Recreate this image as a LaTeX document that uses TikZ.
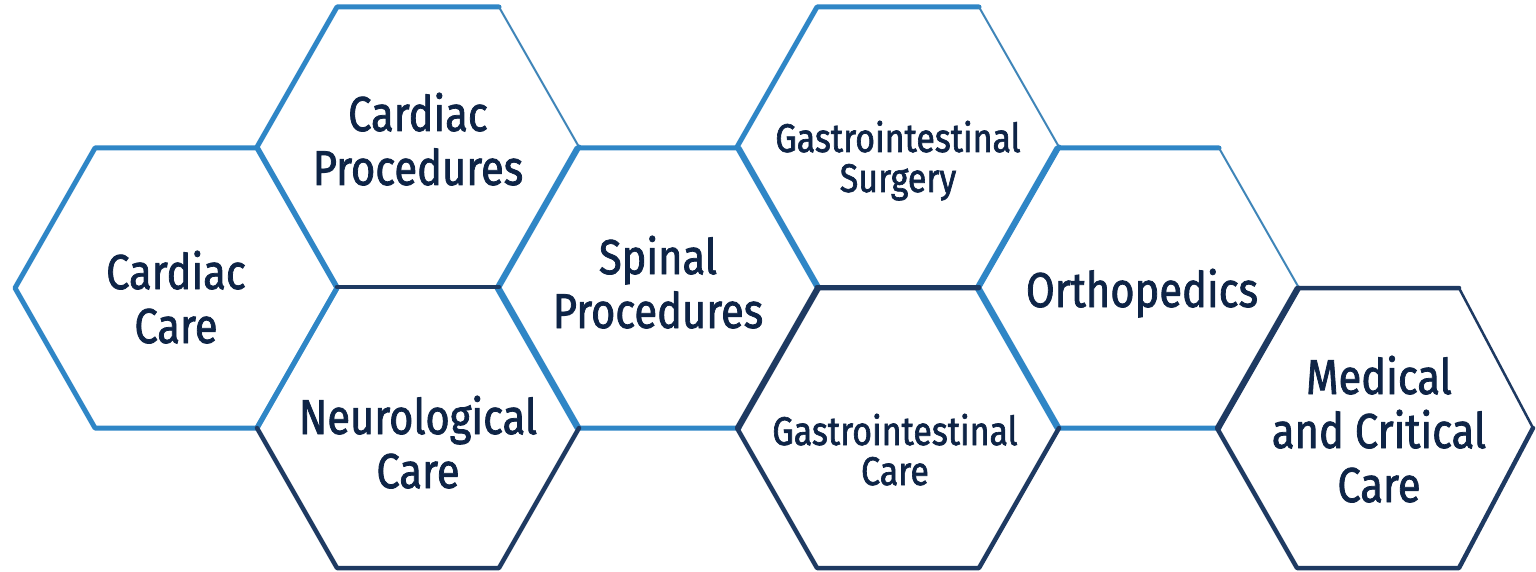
\documentclass[tikz,border=0pt]{standalone}
\usepackage{fontspec}
\setmainfont{Fira Sans}[FakeStretch=0.85,FakeBold=1.6]
\definecolor{lb}{HTML}{2F86C6}
\definecolor{nv}{HTML}{1E3A62}
\definecolor{tx}{HTML}{0E2446}
\newcommand\mkhex[3]{%
  \coordinate (#1E)  at (#2+161,#3);
  \coordinate (#1NE) at (#2+81,#3-140);
  \coordinate (#1NW) at (#2-81,#3-140);
  \coordinate (#1W)  at (#2-161,#3);
  \coordinate (#1SW) at (#2-81,#3+140);
  \coordinate (#1SE) at (#2+81,#3+140);}
\begin{document}
\begin{tikzpicture}[x=1pt,y=-1pt,
  lbe/.style={draw=lb,line width=5pt,line join=round,line cap=round},
  lbt/.style={draw=lb!80!gray,line width=2pt,line cap=round},
  nve/.style={draw=nv,line width=4.5pt,line join=round,line cap=round},
  nvt/.style={draw=nv,line width=2.5pt,line cap=round},
  big/.style={text=tx,align=center,anchor=base,font=\fontsize{49}{54}\selectfont},
  small/.style={text=tx,align=center,anchor=base,font=\fontsize{40}{40}\selectfont}]
\useasboundingbox (0,0) rectangle (1536,572);
\mkhex{a}{176}{288}
\mkhex{b}{418}{147}
\mkhex{c}{418}{428}
\mkhex{d}{658}{288}
\mkhex{e}{898}{147}
\mkhex{f}{898}{428}
\mkhex{g}{1138}{288}
\mkhex{h}{1378}{428}
\coordinate (hE) at (1533,428);
% light blue edges
\draw[lbe] (aE) -- (aNE) -- (aNW) -- (aW) -- (aSW) -- (aSE) -- cycle;
\draw[lbe] (bE) -- (bSE) (bSW) -- (bW) -- (bNW) -- (bNE);
\draw[lbt] (bNE) -- (bE);
\draw[lbe] (cNW) -- (cW) (cNE) -- (cE);
\draw[lbe] (dE) -- (dNE) -- (dNW) -- (dW) -- (dSW) -- (dSE);
\draw[lbe] (eE) -- (eSE) (eSW) -- (eW) -- (eNW) -- (eNE);
\draw[lbt] (eNE) -- (eE);
\draw[lbe] (fNE) -- (fE);
\draw[lbe] (gNE) -- (gNW) -- (gW) -- (gSW) -- (gSE);
\draw[lbt] (gNE) -- (gE);
% navy edges
\draw[nve] (bSW) -- (bSE);
\draw[nve] (cW) -- (cSW) -- (cSE) -- (cE);
\draw[nve] (dE) -- (dSE);
\draw[nve] (eSW) -- (eSE);
\draw[nve] (fNE) -- (fNW) -- (fW) -- (fSW) -- (fSE) -- (fE);
\draw[nve] (gE) -- (gSE);
\draw[nve] (hNE) -- (hNW) -- (hW) -- (hSW) -- (hSE) -- (hE);
\draw[nvt] (hNE) -- (hE);
% labels
\node[big] (ta) at (176,343) {Cardiac\\Care};
\node[big] (tb) at (418,185) {Cardiac\\Procedures};
\node[big] (tc) at (418,488) {Neurological\\Care};
\node[big] (td) at (658,328) {Spinal\\Procedures};
\node[small] (te) at (898,192) {Gastrointestinal\\Surgery};
\node[small] (tf) at (895,485) {Gastrointestinal\\Care};
\node[big] (tg) at (1142,307) {Orthopedics};
\node[big] (th) at (1379,502) {Medical\\and Critical\\Care};
\end{tikzpicture}
\end{document}
